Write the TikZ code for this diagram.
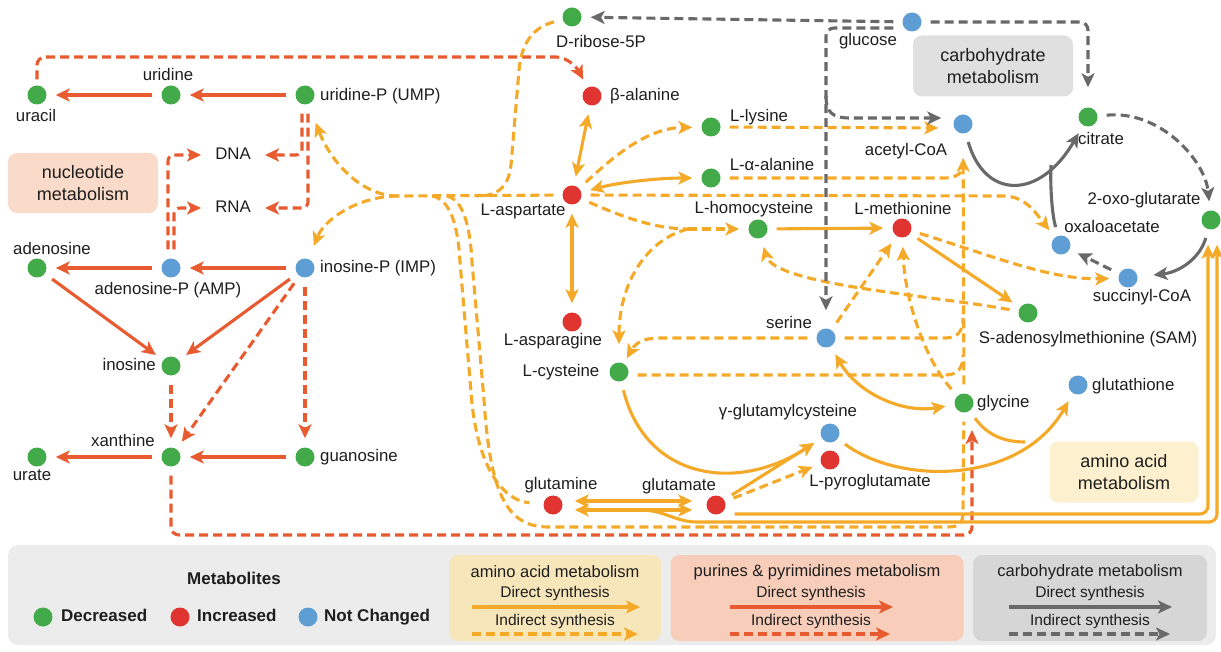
\documentclass[tikz,border=0pt]{standalone}
\usepackage{fontspec}
\setmainfont{Liberation Sans}
\usetikzlibrary{arrows.meta,calc}
\definecolor{cG}{RGB}{66,170,72}
\definecolor{cR}{RGB}{224,52,48}
\definecolor{cB}{RGB}{95,158,212}
\definecolor{cP}{RGB}{232,90,48}
\definecolor{cY}{RGB}{244,170,40}
\definecolor{cK}{RGB}{105,105,105}
\definecolor{nucF}{RGB}{250,218,200}
\definecolor{carbF}{RGB}{224,224,224}
\definecolor{aminoF}{RGB}{252,240,206}
\definecolor{legF}{RGB}{236,236,236}
\definecolor{legA}{RGB}{246,230,186}
\definecolor{legP}{RGB}{248,206,186}
\definecolor{legC}{RGB}{214,214,214}
\definecolor{txt}{RGB}{30,30,30}
\newcommand{\mylab}{\fontsize{16.8}{19}\selectfont}
\newcommand{\mybox}{\fontsize{18}{22}\selectfont}
\newcommand{\mylegt}{\fontsize{16.5}{19}\selectfont}
\newcommand{\mylegs}{\fontsize{15.5}{18}\selectfont}
\begin{document}
\begin{tikzpicture}[x=1pt,y=-1pt,
  mdot/.style={circle,minimum size=19pt,inner sep=0pt},
  gdot/.style={mdot,fill=cG},
  rdot/.style={mdot,fill=cR},
  bdot/.style={mdot,fill=cB},
  lab/.style={font=\mylab,text=txt,inner sep=0pt,text height=12pt,text depth=3.5pt},
  boxlab/.style={font=\mybox,text=txt,align=center,rounded corners=9pt,inner sep=0pt},
  conn/.style={line width=3.1pt,shorten <=9pt,shorten >=9pt},
  dsh/.style={dash pattern=on 9pt off 5pt},
  pS/.style={conn,draw=cP},
  pD/.style={conn,draw=cP,dsh},
  yS/.style={conn,draw=cY},
  yD/.style={conn,draw=cY,dsh},
  kS/.style={conn,draw=cK},
  kD/.style={conn,draw=cK,dsh},
  ar/.style={-{Stealth[length=14pt,width=13pt,inset=3.5pt]}},
  dar/.style={{Stealth[length=14pt,width=13pt,inset=3.5pt]}-{Stealth[length=14pt,width=13pt,inset=3.5pt]}}
]
\useasboundingbox (0,0) rectangle (1221,652);

% ---------- background boxes ----------
\node[boxlab,fill=nucF,minimum width=150pt,minimum height=60pt] (nucbox) at (83,183) {nucleotide\\metabolism};
\node[boxlab,fill=carbF,minimum width=160pt,minimum height=61pt] (carbbox) at (993,66) {carbohydrate\\metabolism};
\node[boxlab,fill=aminoF,minimum width=149pt,minimum height=61pt] (aminobox) at (1124,472) {amino acid\\metabolism};

% ---------- metabolite dots ----------
\node[gdot] (uracil) at (37,95) {};
\node[gdot] (uridine) at (171,95) {};
\node[gdot] (UMP) at (305,95) {};
\node[gdot] (adenosine) at (37,268) {};
\node[bdot] (AMP) at (171,268) {};
\node[bdot] (IMP) at (305,268) {};
\node[gdot] (inosine) at (171,366) {};
\node[gdot] (xanthine) at (171,457) {};
\node[gdot] (urate) at (37,457) {};
\node[gdot] (guanosine) at (305,457) {};
\node[lab,inner sep=12pt] (DNA) at (233,155) {DNA};
\node[lab,inner sep=12pt] (RNA) at (233,208) {RNA};
\node[gdot] (ribose) at (572,17) {};
\node[rdot] (balanine) at (592,96) {};
\node[rdot] (asp) at (572,195) {};
\node[rdot] (asn) at (572,322) {};
\node[gdot] (lys) at (711,127) {};
\node[gdot] (ala) at (711,178) {};
\node[gdot] (hcy) at (758,229) {};
\node[rdot] (met) at (902,228) {};
\node[gdot] (cys) at (619,372) {};
\node[bdot] (ser) at (826,338) {};
\node[bdot] (gglu) at (830,433) {};
\node[rdot] (pglu) at (830,460) {};
\node[gdot] (gly) at (964,403) {};
\node[bdot] (gsh) at (1078,385) {};
\node[rdot] (gln) at (553,505) {};
\node[rdot] (glu) at (716,505) {};
\node[bdot] (glucose) at (912,22) {};
\node[bdot] (acoa) at (963,124) {};
\node[gdot] (citrate) at (1088,117) {};
\node[gdot] (oxo) at (1211,220) {};
\node[bdot] (oaa) at (1061,245) {};
\node[bdot] (succ) at (1128,278) {};
\node[gdot] (sam) at (1028,313) {};

% ---------- labels ----------
\node[lab] (uracilL) at (36,117) {uracil};
\node[lab] (uridineL) at (168,76) {uridine};
\node[lab,anchor=west] (UMPL) at (320,96) {uridine-P (UMP)};
\node[lab] (adenosineL) at (52,250) {adenosine};
\node[lab] (AMPL) at (168,290) {adenosine-P (AMP)};
\node[lab,anchor=west] (IMPL) at (320,268) {inosine-P (IMP)};
\node[lab,anchor=east] (inosineL) at (156,366) {inosine};
\node[lab] (xanthineL) at (123,442) {xanthine};
\node[lab] (urateL) at (32,476) {urate};
\node[lab,anchor=west] (guanosineL) at (320,457) {guanosine};
\node[lab] (riboseL) at (601,43) {D-ribose-5P};
\node[lab,anchor=west] (balanineL) at (610,96) {β-alanine};
\node[lab] (lysL) at (759,117) {L-lysine};
\node[lab] (alaL) at (772,166) {L-α-alanine};
\node[lab] (aspL) at (523,211) {L-aspartate};
\node[lab] (hcyL) at (754,209) {L-homocysteine};
\node[lab] (metL) at (903,210) {L-methionine};
\node[lab] (asnL) at (553,341) {L-asparagine};
\node[lab] (cysL) at (561,372) {L-cysteine};
\node[lab] (serL) at (789,324) {serine};
\node[lab] (ggluL) at (788,412) {γ-glutamylcysteine};
\node[lab] (pgluL) at (870,482) {L-pyroglutamate};
\node[lab,anchor=west] (glyL) at (977,403) {glycine};
\node[lab,anchor=west] (gshL) at (1092,386) {glutathione};
\node[lab] (samL) at (1088,339) {S-adenosylmethionine (SAM)};
\node[lab] (succL) at (1142,297) {succinyl-CoA};
\node[lab] (glnL) at (561,485) {glutamine};
\node[lab] (gluL) at (679,486) {glutamate};
\node[lab] (glucoseL) at (868,41) {glucose};
\node[lab] (acoaL) at (906,151) {acetyl-CoA};
\node[lab] (citrateL) at (1101,140) {citrate};
\node[lab] (oxoL) at (1144,200) {2-oxo-glutarate};
\node[lab] (oaaL) at (1112,228) {oxaloacetate};

% ---------- helper coordinates ----------
\coordinate (glyIn) at (972,421);
\coordinate (J) at (398,196);
\coordinate (J1) at (432,196);
\coordinate (J2) at (447,196);
\coordinate (Jh) at (688,229);
\coordinate (gm) at (1025,442);
\coordinate (gs) at (640,510);
\coordinate (v1) at (963,355);
\coordinate (v2) at (963,318);
\coordinate (v3) at (963,164);
\coordinate (gb) at (826,96);
\coordinate (om) at (1051,165);
\coordinate (rj) at (477,196);

% ---------- purine / pyrimidine connectors ----------
\draw[pS,ar] (UMP) -- (uridine);
\draw[pS,ar] (uridine) -- (uracil);
\draw[pS,ar] (IMP) -- (AMP);
\draw[pS,ar] (AMP) -- (adenosine);
\draw[pS,ar] (adenosine) -- (inosine);
\draw[pS,ar] (IMP) -- (inosine);
\draw[pS,ar] (guanosine) -- (xanthine);
\draw[pS,ar] (xanthine) -- (urate);
\draw[pD,ar] (inosine) -- (xanthine);
\draw[pD,ar] (IMP) -- (xanthine);
\draw[pD,ar] (IMP) -- (guanosine);
\draw[pD,ar,rounded corners=8pt,shorten <=6pt] (uracil) -- (37,57) -- (548,57) .. controls (566,57) and (576,66) .. (balanine);
\draw[pD,ar,rounded corners=6pt,shorten >=2pt] ([xshift=-3pt]UMP.south) |- (DNA);
\draw[pD,ar,rounded corners=6pt,shorten >=2pt] ([xshift=3pt]UMP.south) |- (RNA);
\draw[pD,ar,rounded corners=6pt,shorten >=2pt] ([xshift=-3pt]AMP.north) |- (DNA);
\draw[pD,ar,rounded corners=6pt,shorten >=2pt] ([xshift=3pt]AMP.north) |- (RNA);
\draw[pD,ar,rounded corners=8pt] (xanthine) -- (171,535) -- (972,535) -- (glyIn);

% ---------- amino acid connectors ----------
\draw[yD,shorten >=0pt] (asp) -- (J);
\draw[yD,ar,shorten <=0pt,shorten >=20pt] (J) .. controls (360,196) and (330,160) .. (UMP);
\draw[yD,ar,shorten <=0pt,shorten >=14pt] (J) .. controls (360,196) and (325,218) .. (IMP);
\draw[yD,shorten >=0pt] (ribose) .. controls (535,27) and (522,40) .. (519,70) -- (511,165) .. controls (508,190) and (495,196) .. (rj);
\draw[yD,shorten <=0pt,shorten >=14pt] (J1) .. controls (450,199) and (458,225) .. (460,262) -- (471,392) .. controls (476,462) and (500,500) .. (gln);
\draw[yD,shorten <=0pt] (J2) .. controls (463,200) and (470,225) .. (472,262) -- (484,400) .. controls (490,490) and (505,527) .. (548,527) -- (948,527) .. controls (960,527) and (963,522) .. (963,512) -- (gly);
\draw[yD,ar] (asp) .. controls (610,160) and (645,128) .. (lys);
\draw[yS,dar] (asp) .. controls (620,182) and (660,178) .. (ala);
\draw[yS,dar] (asp) -- (balanine);
\draw[yS,dar] (asp) -- (asn);
\draw[yD,shorten >=0pt] (asp) .. controls (612,212) and (650,229) .. (Jh);
\draw[yD,ar,shorten <=0pt] (Jh) -- (hcy);
\draw[yD,ar,shorten <=0pt,shorten >=18pt] (Jh) .. controls (645,240) and (619,285) .. (cys);
\draw[yD,ar] (asp) -- (1003,196) .. controls (1025,196) and (1035,212) .. (oaa);
\draw[yD,ar,shorten >=15pt] (lys) -- ([yshift=-4pt]acoa.west);
\draw[yS,ar] (hcy) -- (met);
\draw[yS,ar] (met) -- (sam);
\draw[yS,dar] (ser) to[bend right=35] (gly);
\draw[yS,ar] (cys) .. controls (645,478) and (735,494) .. (gglu);
\draw[yS,ar] (glu) -- (gglu);
\draw[yD,ar] (glu) -- (pglu);
\draw[yS,ar] (gglu) .. controls (900,485) and (1020,485) .. (gsh);
\draw[yS,shorten >=0pt] (gly) .. controls (985,432) and (1000,442) .. (gm);
\draw[yS,ar,rounded corners=8pt,shorten >=15pt] ([yshift=-9pt]glu.east) -| ([xshift=-3pt]oxo.south);
\draw[yS,ar,rounded corners=8pt,shorten <=0pt,shorten >=15pt] (gs) .. controls (665,510) and (675,522) .. (705,522) -| ([xshift=6pt]oxo.south);
\draw[yS,dar,shorten <=12pt,shorten >=14pt] ([yshift=4pt]gln.east) -- ([yshift=4pt]glu.west);
\draw[yS,dar,shorten <=12pt,shorten >=14pt] ([yshift=-5pt]gln.east) -- ([yshift=-5pt]glu.west);
\draw[yD,ar] (ser) -- (met);
\draw[yD,ar,shorten >=6pt] (ser) -- (660,338) .. controls (645,338) and (636,342) .. (cys);
\draw[yD,shorten >=0pt] ([yshift=-3pt]cys.east) -- (945,375) .. controls (958,375) and (963,368) .. (v1);
\draw[yD,shorten >=0pt] (ser) -- (945,338) .. controls (958,338) and (963,331) .. (v2);
\draw[yD,shorten >=0pt] (ala) -- (945,178) .. controls (958,178) and (963,172) .. (v3);
\draw[yD,ar,shorten >=24pt] (gly) -- (acoa);
\draw[yD,ar] (sam) .. controls (930,295) and (775,285) .. (hcy);
\draw[yD,ar] (met) .. controls (990,255) and (1050,280) .. (succ);
\draw[yD,ar] (gly) .. controls (925,360) and (905,300) .. (met);

% ---------- carbohydrate connectors ----------
\draw[kD,ar] (glucose) -- (ribose);
\draw[kD,ar,rounded corners=8pt,shorten >=18pt] ([yshift=-6pt]glucose.west) -| (ser);
\draw[kD,ar,shorten <=0pt,shorten >=12pt] (gb) .. controls (826,112) and (832,118) .. (850,118) -- ([yshift=6pt]acoa.west);
\draw[kD,ar,rounded corners=8pt,shorten >=20pt] (glucose) -| (citrate);
\draw[kS,ar] (acoa) .. controls (985,200) and (1040,200) .. (citrate);
\draw[kS,shorten >=0pt] (oaa) .. controls (1052,215) and (1050,185) .. (om);
\draw[kD,ar] (citrate) .. controls (1160,110) and (1205,160) .. (oxo);
\draw[kS,ar,shorten >=16pt] (oxo) .. controls (1200,258) and (1180,272) .. (succ);
\draw[kD,ar] (succ) -- (oaa);

% ---------- legend ----------
\node[fill=legF,rounded corners=10pt,minimum width=1208pt,minimum height=100pt,inner sep=0pt] (legbg) at (612,595) {};
\node[font=\bfseries\fontsize{17}{19}\selectfont,text=txt] (metab) at (234,578) {Metabolites};
\node[gdot] (lgG) at (43,617) {};
\node[lab,anchor=west,font=\bfseries\fontsize{17}{19}\selectfont] (lgGt) at (61,617) {Decreased};
\node[rdot] (lgR) at (180,617) {};
\node[lab,anchor=west,font=\bfseries\fontsize{17}{19}\selectfont] (lgRt) at (197,617) {Increased};
\node[bdot] (lgB) at (308,617) {};
\node[lab,anchor=west,font=\bfseries\fontsize{17}{19}\selectfont] (lgBt) at (324,617) {Not Changed};

\node[fill=legA,rounded corners=9pt,minimum width=212pt,minimum height=86pt,inner sep=0pt] (legAbox) at (555,598) {};
\node[fill=legP,rounded corners=9pt,minimum width=293pt,minimum height=86pt,inner sep=0pt] (legPbox) at (817,598) {};
\node[fill=legC,rounded corners=9pt,minimum width=234pt,minimum height=86pt,inner sep=0pt] (legCbox) at (1090,598) {};

\node[font=\mylegt,text=txt] (tA) at (555,572) {amino acid metabolism};
\node[font=\mylegs,text=txt] (dA) at (555,593) {Direct synthesis};
\node[font=\mylegs,text=txt] (iA) at (555,621) {Indirect synthesis};
\node[font=\mylegt,text=txt] (tP) at (817,572) {purines \& pyrimidines metabolism};
\node[font=\mylegs,text=txt] (dP) at (811,593) {Direct synthesis};
\node[font=\mylegs,text=txt] (iP) at (811,621) {Indirect synthesis};
\node[font=\mylegt,text=txt] (tC) at (1090,572) {carbohydrate metabolism};
\node[font=\mylegs,text=txt] (dC) at (1090,593) {Direct synthesis};
\node[font=\mylegs,text=txt] (iC) at (1090,621) {Indirect synthesis};

\coordinate (a1) at (472,607); \coordinate (a2) at (640,607);
\coordinate (a3) at (472,634); \coordinate (a4) at (638,634);
\coordinate (p1) at (730,607); \coordinate (p2) at (893,607);
\coordinate (p3) at (730,634); \coordinate (p4) at (890,634);
\coordinate (c1) at (1009,607); \coordinate (c2) at (1172,607);
\coordinate (c3) at (1009,634); \coordinate (c4) at (1170,634);
\draw[yS,ar,shorten <=0pt,shorten >=0pt] (a1) -- (a2);
\draw[yD,ar,shorten <=0pt,shorten >=0pt] (a3) -- (a4);
\draw[pS,ar,shorten <=0pt,shorten >=0pt] (p1) -- (p2);
\draw[pD,ar,shorten <=0pt,shorten >=0pt] (p3) -- (p4);
\draw[kS,ar,shorten <=0pt,shorten >=0pt] (c1) -- (c2);
\draw[kD,ar,shorten <=0pt,shorten >=0pt] (c3) -- (c4);
\end{tikzpicture}
\end{document}
